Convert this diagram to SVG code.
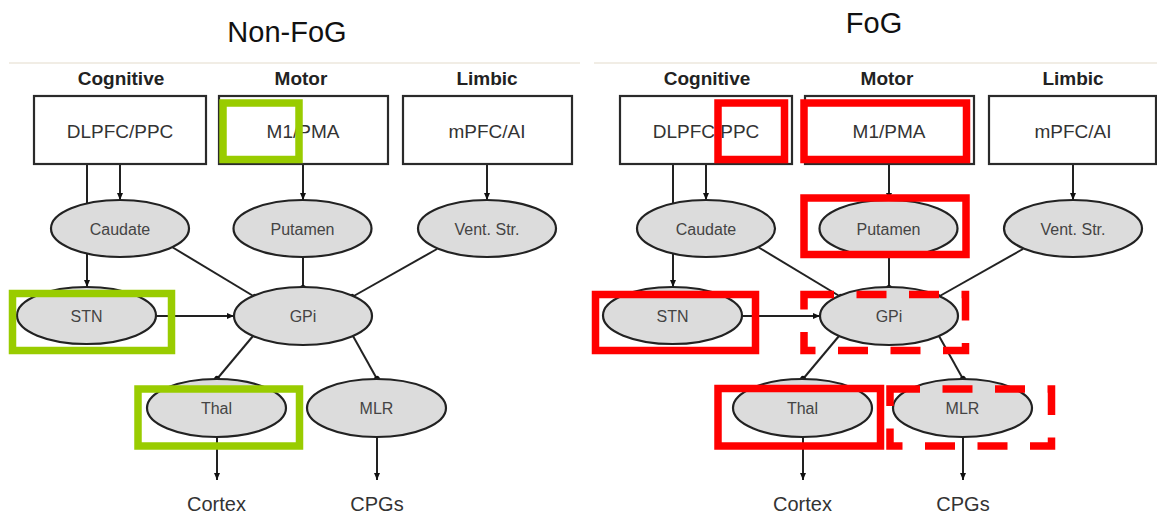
<svg xmlns="http://www.w3.org/2000/svg" width="1157" height="516" viewBox="0 0 1157 516">
  <style>
    .title { font-family: "Liberation Sans", Arial, sans-serif; font-size: 29px; fill: #111; text-anchor: middle; }
    .hdr { font-family: "Liberation Sans", Arial, sans-serif; font-size: 19px; font-weight: bold; fill: #222; text-anchor: middle; }
    .box { fill: #fff; stroke: #2a2a2a; stroke-width: 2.2; }
    .boxt { font-family: "Liberation Sans", Arial, sans-serif; font-size: 19px; fill: #333; text-anchor: middle; }
    .ell { fill: #dcdcdc; stroke: #222; stroke-width: 2.2; }
    .ellt { font-family: "Liberation Sans", Arial, sans-serif; font-size: 16px; fill: #444; text-anchor: middle; }
    .out { font-family: "Liberation Sans", Arial, sans-serif; font-size: 20px; fill: #333; text-anchor: middle; }
    .sep { stroke: #f1ede5; stroke-width: 2; }
    .c { stroke: #222; stroke-width: 2; fill: none; }
    .arr { marker-end: url(#arrow); }
    .dot { marker-end: url(#dot); }
    .green { fill: none; stroke: #99cc00; stroke-width: 7.5; }
    .red { fill: none; stroke: #ff0000; stroke-width: 7.5; }
    .reddash { fill: none; stroke: #ff0000; stroke-width: 7.5; stroke-dasharray: 30 22.5; }
  </style>
  <defs>
    <marker id="arrow" markerUnits="userSpaceOnUse" markerWidth="8" markerHeight="7" refX="7" refY="3.5" orient="auto">
      <path d="M0,0.5 L7,3.5 L0,6.5 z" fill="#111"/>
    </marker>
    <marker id="dot" markerUnits="userSpaceOnUse" markerWidth="7" markerHeight="7" refX="3.5" refY="3.5" orient="auto">
      <circle cx="3.5" cy="3.5" r="3" fill="#111"/>
    </marker>
  </defs>
  <rect width="1157" height="516" fill="#fff"/>

  <!-- Titles and separators -->
  <text class="title" x="287" y="42">Non-FoG</text>
  <text class="title" x="874" y="33">FoG</text>
  <line class="sep" x1="9" y1="63" x2="580" y2="63"/>
  <line class="sep" x1="594" y1="63" x2="1157" y2="63"/>

  <!-- LEFT PANEL -->
  <g id="panel-nonfog">
    <g id="connectors-nonfog">
      <line class="c arr" x1="87" y1="164" x2="87" y2="287"/>
      <line class="c arr" x1="120" y1="164" x2="120" y2="200"/>
      <line class="c arr" x1="303" y1="164" x2="303" y2="200"/>
      <line class="c arr" x1="487" y1="164" x2="487" y2="200"/>
      <line class="c dot" x1="172" y1="247" x2="255" y2="297"/>
      <line class="c dot" x1="303" y1="257" x2="303" y2="288"/>
      <line class="c dot" x1="437" y1="249" x2="352" y2="297"/>
      <line class="c arr" x1="156" y1="316" x2="234" y2="316"/>
      <line class="c dot" x1="253" y1="336" x2="217" y2="379"/>
      <line class="c dot" x1="353" y1="336" x2="377" y2="379"/>
      <line class="c arr" x1="217" y1="437" x2="217" y2="480"/>
      <line class="c arr" x1="377" y1="437" x2="377" y2="480"/>
    </g>
    <g id="hdr-cog-l"><text class="hdr" x="121" y="85">Cognitive</text></g>
    <g id="hdr-mot-l"><text class="hdr" x="301" y="85">Motor</text></g>
    <g id="hdr-lim-l"><text class="hdr" x="487" y="85">Limbic</text></g>
    <g id="dlpfc-l"><rect class="box" x="34" y="96" width="172" height="68"/><text class="boxt" x="120" y="137.5">DLPFC/PPC</text></g>
    <g id="m1-l"><rect class="box" x="219" y="96" width="169" height="68"/><text class="boxt" x="303" y="137.5">M1/PMA</text></g>
    <g id="mpfc-l"><rect class="box" x="403" y="96" width="169" height="68"/><text class="boxt" x="487" y="137.5">mPFC/AI</text></g>
    <g id="caudate-l"><ellipse class="ell" cx="120" cy="228.5" rx="69" ry="28.5"/><text class="ellt" x="120" y="234.5">Caudate</text></g>
    <g id="putamen-l"><ellipse class="ell" cx="302.5" cy="228.5" rx="69" ry="28.5"/><text class="ellt" x="302.5" y="234.5">Putamen</text></g>
    <g id="ventstr-l"><ellipse class="ell" cx="487" cy="228.5" rx="69" ry="28.5"/><text class="ellt" x="487" y="234.5">Vent. Str.</text></g>
    <g id="stn-l"><ellipse class="ell" cx="86.5" cy="315.5" rx="69.5" ry="28.5"/><text class="ellt" x="86.5" y="321.5">STN</text></g>
    <g id="gpi-l"><ellipse class="ell" cx="303" cy="316" rx="69" ry="29"/><text class="ellt" x="303" y="322">GPi</text></g>
    <g id="thal-l"><ellipse class="ell" cx="216.5" cy="408" rx="69.5" ry="29"/><text class="ellt" x="216.5" y="414">Thal</text></g>
    <g id="mlr-l"><ellipse class="ell" cx="376.5" cy="408" rx="69.5" ry="29"/><text class="ellt" x="376.5" y="414">MLR</text></g>
    <g id="cortex-l"><text class="out" x="216.5" y="511">Cortex</text></g>
    <g id="cpgs-l"><text class="out" x="377" y="511">CPGs</text></g>
  </g>

  <!-- RIGHT PANEL -->
  <g id="panel-fog">
    <g id="connectors-fog">
      <line class="c arr" x1="673" y1="164" x2="673" y2="287"/>
      <line class="c arr" x1="706" y1="164" x2="706" y2="200"/>
      <line class="c arr" x1="889" y1="164" x2="889" y2="200"/>
      <line class="c arr" x1="1073" y1="164" x2="1073" y2="200"/>
      <line class="c dot" x1="758" y1="247" x2="841" y2="297"/>
      <line class="c dot" x1="889" y1="257" x2="889" y2="288"/>
      <line class="c dot" x1="1023" y1="249" x2="938" y2="297"/>
      <line class="c arr" x1="742" y1="316" x2="820" y2="316"/>
      <line class="c dot" x1="839" y1="336" x2="803" y2="379"/>
      <line class="c dot" x1="939" y1="336" x2="963" y2="379"/>
      <line class="c arr" x1="803" y1="437" x2="803" y2="480"/>
      <line class="c arr" x1="963" y1="437" x2="963" y2="480"/>
    </g>
    <g id="hdr-cog-r"><text class="hdr" x="707" y="85">Cognitive</text></g>
    <g id="hdr-mot-r"><text class="hdr" x="887" y="85">Motor</text></g>
    <g id="hdr-lim-r"><text class="hdr" x="1073" y="85">Limbic</text></g>
    <g id="dlpfc-r"><rect class="box" x="620" y="96" width="172" height="68"/><text class="boxt" x="706" y="137.5">DLPFC/PPC</text></g>
    <g id="m1-r"><rect class="box" x="805" y="96" width="169" height="68"/><text class="boxt" x="889" y="137.5">M1/PMA</text></g>
    <g id="mpfc-r"><rect class="box" x="989" y="96" width="167" height="68"/><text class="boxt" x="1073" y="137.5">mPFC/AI</text></g>
    <g id="caudate-r"><ellipse class="ell" cx="706" cy="228.5" rx="69" ry="28.5"/><text class="ellt" x="706" y="234.5">Caudate</text></g>
    <g id="putamen-r"><ellipse class="ell" cx="888.5" cy="228.5" rx="69" ry="28.5"/><text class="ellt" x="888.5" y="234.5">Putamen</text></g>
    <g id="ventstr-r"><ellipse class="ell" cx="1073" cy="228.5" rx="69" ry="28.5"/><text class="ellt" x="1073" y="234.5">Vent. Str.</text></g>
    <g id="stn-r"><ellipse class="ell" cx="672.5" cy="315.5" rx="69.5" ry="28.5"/><text class="ellt" x="672.5" y="321.5">STN</text></g>
    <g id="gpi-r"><ellipse class="ell" cx="889" cy="316" rx="69" ry="29"/><text class="ellt" x="889" y="322">GPi</text></g>
    <g id="thal-r"><ellipse class="ell" cx="802.5" cy="408" rx="69.5" ry="29"/><text class="ellt" x="802.5" y="414">Thal</text></g>
    <g id="mlr-r"><ellipse class="ell" cx="962.5" cy="408" rx="69.5" ry="29"/><text class="ellt" x="962.5" y="414">MLR</text></g>
    <g id="cortex-r"><text class="out" x="802.5" y="511">Cortex</text></g>
    <g id="cpgs-r"><text class="out" x="963" y="511">CPGs</text></g>
  </g>

  <!-- Highlight frames -->
  <g id="highlights">
    <rect class="green" x="223" y="103" width="76" height="56.5"/>
    <rect class="green" x="12.5" y="293.5" width="159" height="57"/>
    <rect class="green" x="138" y="389" width="161.5" height="57"/>
    <rect class="red" x="718" y="103" width="66.5" height="56.5"/>
    <rect class="red" x="804" y="103" width="162.5" height="56.5"/>
    <rect class="red" x="804" y="198" width="162" height="56.5"/>
    <rect class="red" x="595.5" y="294.5" width="160" height="56"/>
    <rect class="reddash" x="804" y="294.5" width="161.5" height="56"/>
    <rect class="red" x="718" y="388.5" width="162.5" height="57.5"/>
    <rect class="reddash" x="890" y="389" width="161.5" height="57"/>
  </g>
</svg>
